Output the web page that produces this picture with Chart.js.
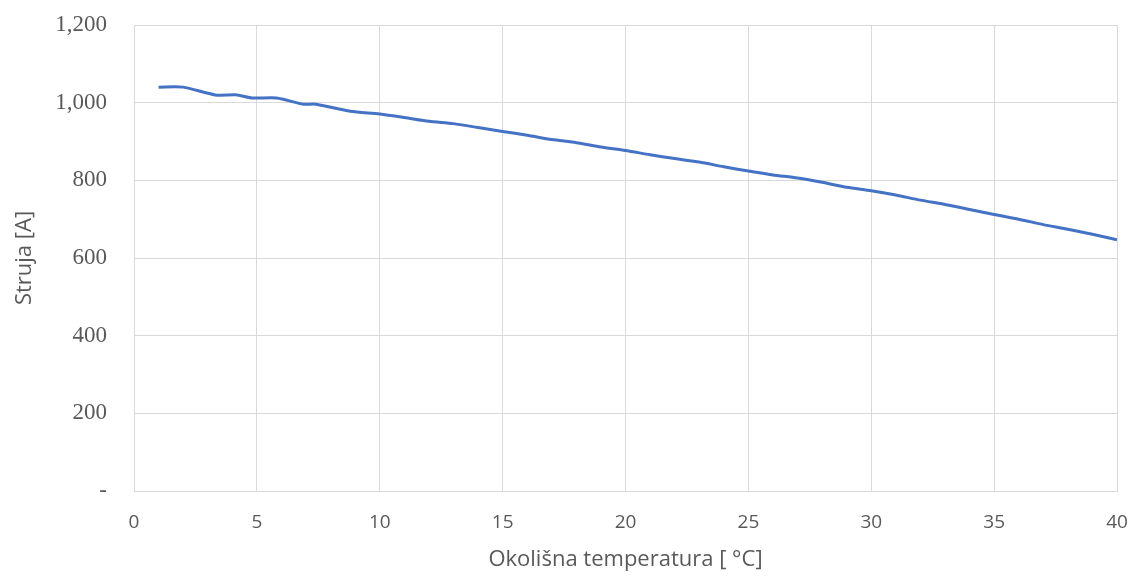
<!DOCTYPE html>
<html>
<head>
<meta charset="utf-8">
<script src="https://cdn.jsdelivr.net/npm/chart.js@4/dist/chart.umd.min.js"></script>
<style>
  html, body { margin: 0; padding: 0; background: #fff; }
  #wrap { width: 1133px; height: 577px; position: relative; }
</style>
</head>
<body>
<div id="wrap"><canvas id="myChart"></canvas></div>
<script>
// data
const temps = [1, 2, 3.3, 4.2, 4.8, 5.8, 6.9, 7.4, 8.8, 10, 11, 12, 13, 14, 15, 16, 17, 18, 19, 20,
  21, 22, 23, 24, 25, 26, 27, 28, 29, 30, 31, 32, 33, 34, 35, 36, 37, 38, 39, 40];
const current = [1040, 1040, 1020, 1020, 1012, 1012, 996, 996, 978, 971, 962, 952, 946, 936, 926, 916, 905, 897, 886, 877,
  866, 856, 847, 835, 824, 814, 806, 795, 782, 773, 762, 749, 738, 725, 712, 700, 686, 674, 661, 647];
const xTicks = [0, 5, 10, 15, 20, 25, 30, 35, 40];
const yTicks = [0, 200, 400, 600, 800, 1000, 1200];

const points = temps.map((t, i) => ({ x: t, y: current[i] }));
const gridColor = "#d9d9d9";
const textColor = "#595959";

function start() {
  const ctx = document.getElementById("myChart").getContext("2d");
  new Chart(ctx, {
    type: "scatter",
    data: {
      datasets: [
        {
          label: "Struja",
          data: points,
          showLine: true,
          borderColor: "#4472c4",
          borderWidth: 3,
          pointRadius: 0,
          tension: 0.25,
          fill: false,
        },
      ],
    },
    options: {
      responsive: true,
      maintainAspectRatio: false,
      animation: false,
      layout: { padding: { top: 25, right: 16, bottom: 0, left: 0 } },
      scales: {
        x: {
          type: "linear",
          min: 0,
          max: 40,
          afterBuildTicks: (scale) => {
            scale.ticks = xTicks.map((v) => ({ value: v }));
          },
          afterFit: (scale) => {
            scale.height = 86;
          },
          // invisible tick marks give the gap between axis and labels
          grid: { color: gridColor, drawTicks: true, tickLength: 20, tickColor: "rgba(0,0,0,0)" },
          border: { color: gridColor },
          ticks: {
            color: textColor,
            padding: 0,
            font: { family: "'Open Sans', sans-serif", size: 19 },
          },
          title: {
            display: true,
            text: "Okolišna temperatura [ °C]",
            color: textColor,
            padding: { top: 0, bottom: 4 },
            font: { family: "'Open Sans', sans-serif", size: 22 },
          },
        },
        y: {
          type: "linear",
          min: 0,
          max: 1200,
          afterBuildTicks: (scale) => {
            scale.ticks = yTicks.map((v) => ({ value: v }));
          },
          afterFit: (scale) => {
            scale.width = 134;
          },
          grid: { color: gridColor, drawTicks: true, tickLength: 27, tickColor: "rgba(0,0,0,0)" },
          border: { color: gridColor },
          ticks: {
            color: textColor,
            padding: 0,
            font: { family: "'Liberation Serif', serif", size: 23 },
            callback: (v) => (v === 0 ? "-" : v.toLocaleString("en-US")),
          },
          title: {
            display: true,
            text: "Struja [A]",
            color: textColor,
            padding: { top: 12, bottom: 0 },
            font: { family: "'Open Sans', sans-serif", size: 22 },
          },
        },
      },
      plugins: {
        legend: { display: false },
        title: { display: false },
        tooltip: { enabled: false },
      },
    },
  });
}
start();
</script>
</body>
</html>
